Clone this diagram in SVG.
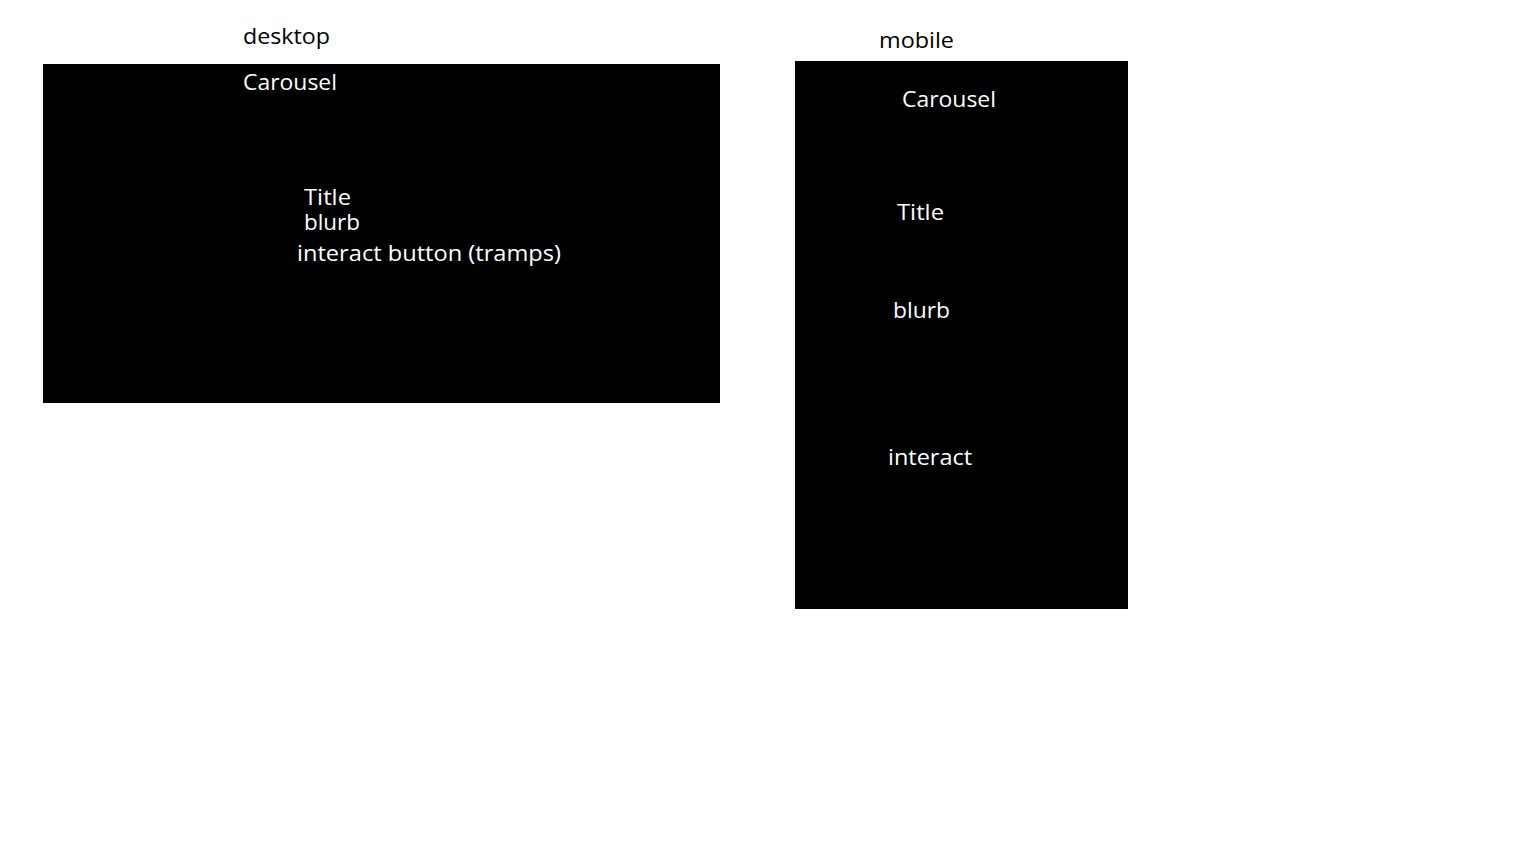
<svg xmlns="http://www.w3.org/2000/svg" width="1536" height="864" viewBox="0 0 1536 864">
<style>
.lbl{font-family:"Open Sans","Noto Sans",sans-serif;font-size:22px;}
.dark{fill:#000;}
.w{fill:#fff;}
.k{fill:#000;}
</style>
<rect x="0" y="0" width="1536" height="864" fill="#fff"/>
<g id="desktop">
<text class="lbl k" x="243" y="44" textLength="87" lengthAdjust="spacingAndGlyphs">desktop</text>
<rect class="dark" x="43" y="64" width="677" height="339"/>
<text class="lbl w" x="243" y="90" textLength="94" lengthAdjust="spacingAndGlyphs">Carousel</text>
<text class="lbl w" x="304" y="205" textLength="47" lengthAdjust="spacingAndGlyphs">Title</text>
<text class="lbl w" x="304" y="230" textLength="56" lengthAdjust="spacingAndGlyphs">blurb</text>
<text class="lbl w" x="297" y="261" textLength="264" lengthAdjust="spacingAndGlyphs">interact button (tramps)</text>
</g>
<g id="mobile">
<text class="lbl k" x="879" y="48" textLength="75" lengthAdjust="spacingAndGlyphs">mobile</text>
<rect class="dark" x="795" y="61" width="333" height="548"/>
<text class="lbl w" x="902" y="107" textLength="94" lengthAdjust="spacingAndGlyphs">Carousel</text>
<text class="lbl w" x="897" y="220" textLength="47" lengthAdjust="spacingAndGlyphs">Title</text>
<text class="lbl w" x="893" y="318" textLength="57" lengthAdjust="spacingAndGlyphs">blurb</text>
<text class="lbl w" x="888" y="465" textLength="84" lengthAdjust="spacingAndGlyphs">interact</text>
</g>
<g id="connectors"></g>
</svg>
